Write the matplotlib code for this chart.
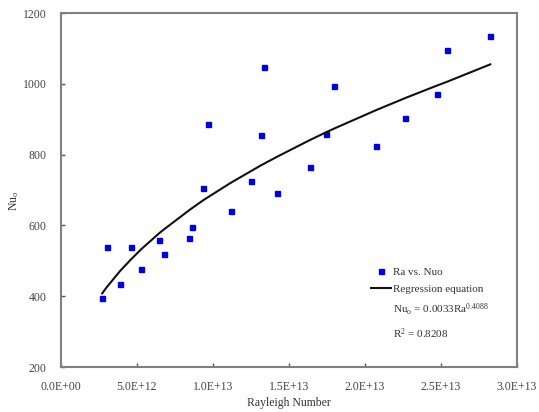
import matplotlib
matplotlib.use("Agg")
import matplotlib.pyplot as plt
from matplotlib.lines import Line2D

# measured points (Rayleigh number, Nusselt number)
ra = [2.73e12, 3.02e12, 3.90e12, 4.60e12, 5.30e12, 6.48e12, 6.77e12, 8.45e12,
      8.61e12, 9.37e12, 9.66e12, 11.17e12, 12.5e12, 13.14e12, 13.36e12, 14.23e12,
      16.38e12, 17.45e12, 17.95e12, 20.76e12, 22.67e12, 24.74e12, 25.42e12, 28.25e12]
nu = [394, 538, 434, 538, 477, 559, 520, 565,
      595, 705, 886, 640, 725, 854, 1047, 692,
      765, 859, 995, 825, 903, 971, 1095, 1136]

# regression curve as drawn, read at the same x positions
nu_fit = [408, 425, 471, 503, 533, 578, 588, 643,
          648, 671, 679, 720, 753, 769, 774, 794,
          841, 863, 873, 926, 960, 995, 1006, 1055]

xticks = [0, 5e12, 1e13, 1.5e13, 2e13, 2.5e13, 3e13]
xticklabels = ["0.0E+00", "5.0E+12", "1.0E+13", "1.5E+13", "2.0E+13", "2.5E+13", "3.0E+13"]
yticks = [200, 400, 600, 800, 1000, 1200]

plt.rcParams['font.family'] = ['Liberation Serif', 'DejaVu Serif']
plt.rcParams['mathtext.fontset'] = 'custom'
plt.rcParams['mathtext.rm'] = 'Liberation Serif'
plt.rcParams['mathtext.it'] = 'Liberation Serif'

fig = plt.figure(figsize=(5.39, 4.12), dpi=100)
ax = fig.add_axes([0.1126, 0.1092, 0.8464, 0.8592])

ax.plot(ra, nu, linestyle='none', marker='s', markersize=3.6, color='#0000e0',
        label='Ra vs. Nuo')
ax.plot(ra, nu_fit, color='#111111', linewidth=1.5, label='Regression equation')

ax.set_xlim(0, 3e13)
ax.set_ylim(200, 1200)
ax.set_xticks(xticks)
ax.set_xticklabels(xticklabels)
ax.set_yticks(yticks)

grey = '#808080'
for s in ax.spines.values():
    s.set_color(grey)
    s.set_linewidth(1.5)
ax.tick_params(direction='in', length=3, width=1, color='#555555',
               labelsize=8.5, labelcolor='#444444')
ax.tick_params(axis='y', pad=10)
ax.tick_params(axis='x', pad=10)

ax.set_xlabel('Rayleigh Number', fontsize=8.5, color='#333333', labelpad=3)
ax.set_ylabel(r'Nu$_{\mathrm{o}}$', fontsize=8.5, color='#333333')
ax.yaxis.set_label_coords(-0.088, 0.47)

blank = Line2D([], [], linestyle='none')
handles, labels = ax.get_legend_handles_labels()
handles += [blank, blank]
labels += [r'Nu$_{\mathrm{o}}$ = 0.0033Ra$^{0.4088}$', r'R$^{2}$ = 0.8208']
leg = ax.legend(handles, labels, loc='upper left', bbox_to_anchor=(0.67, 0.295),
                frameon=False, fontsize=8, handlelength=1.8, handletextpad=0.2,
                labelspacing=0.7, borderaxespad=0)
for t in leg.get_texts():
    t.set_color('#333333')

fig.savefig('out.png', dpi=100)
